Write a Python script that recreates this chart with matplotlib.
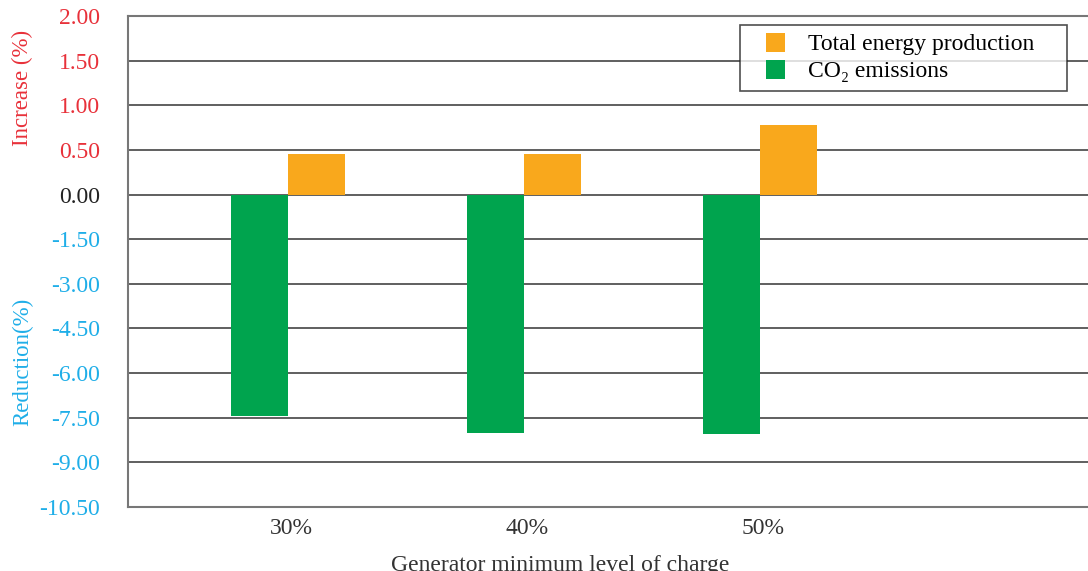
import numpy as np
import matplotlib.pyplot as plt
from matplotlib.patches import Rectangle
from matplotlib.container import BarContainer
from matplotlib.legend_handler import HandlerPatch, update_from_first_child

# Data
categories = ["30%", "40%", "50%"]
energy_increase = [0.45, 0.45, 0.78]
co2_change = [-7.45, -8.0, -8.05]
yticks = [-10.5, -9.0, -7.5, -6.0, -4.5, -3.0, -1.5, 0.0, 0.5, 1.0, 1.5, 2.0]

plt.rcParams["font.family"] = ["Liberation Serif", "DejaVu Serif"]

orange = "#F9A81C"
green = "#00A44E"
red = "#E8313A"
blue = "#1FAEE8"


# Split axis: positive part 0.5 per step, negative part 1.5 per step, same height
def forward(y):
    y = np.asarray(y, dtype=float)
    return np.where(y >= 0, y, y / 3.0)


def inverse(u):
    u = np.asarray(u, dtype=float)
    return np.where(u >= 0, u, u * 3.0)


# legend square pushed to the right of its handle box
def square(legend, orig_handle, xdescent, ydescent, width, height, fontsize):
    s = 0.8 * fontsize
    return Rectangle((width - s - xdescent, (height - s) / 2 - ydescent), s, s)


fig = plt.figure(figsize=(10.88, 5.71), dpi=100)
ax = fig.add_axes([0.1176, 0.112, 0.8824, 0.86])
ax.set_yscale("function", functions=(forward, inverse))

x = np.arange(len(categories))
w = 0.24
ax.bar(x - w / 2, co2_change, w, color=green, label="CO₂ emissions", zorder=3)
ax.bar(x + w / 2, energy_increase, w, color=orange, label="Total energy production", zorder=3)

ax.set_ylim(-10.5, 2.0)
ax.set_xlim(-0.678, 3.39)
ax.set_yticks(yticks)
ax.set_yticklabels([f"{v:.2f}" for v in yticks], fontsize=17)
for lbl, v in zip(ax.get_yticklabels(), yticks):
    if v > 0:
        lbl.set_color(red)
    elif v < 0:
        lbl.set_color(blue)
    else:
        lbl.set_color("#222222")

ax.set_xticks(x + 0.015)
ax.set_xticklabels(categories, fontsize=17, color="#333333")
ax.tick_params(length=0)
ax.tick_params(axis="x", pad=8)
ax.tick_params(axis="y", pad=20)

ax.grid(axis="y", color="#444444", linewidth=1.2, zorder=0)
ax.spines["right"].set_visible(False)
for s in ["left", "bottom", "top"]:
    ax.spines[s].set_color("#777777")
    ax.spines[s].set_linewidth(1.5)

ax.set_xlabel("Generator minimum level of charge", fontsize=17, color="#333333")
ax.xaxis.set_label_coords(0.45, -0.098)

fig.text(0.021, 1 - 88 / 571, "Increase (%)", rotation=90, color=red,
         fontsize=16.5, ha="center", va="center")
fig.text(0.021, 1 - 362 / 571, "Reduction(%)", rotation=90, color=blue,
         fontsize=16.5, ha="center", va="center")

handles, labels = ax.get_legend_handles_labels()
leg = ax.legend(handles[::-1], labels[::-1], loc="upper left",
                bbox_to_anchor=(0.6375, 0.8, 0.3406, 0.182), mode="expand",
                fontsize=17, frameon=True,
                fancybox=False, handlelength=1.55, handleheight=0.8,
                handletextpad=0.97, borderpad=0.35, labelspacing=0.2,
                borderaxespad=0,
                handler_map={BarContainer: HandlerPatch(
                    patch_func=square, update_func=update_from_first_child)})
leg.get_frame().set_edgecolor("#222222")
leg.get_frame().set_linewidth(1.2)
leg.set_zorder(5)

fig.savefig("out.png", dpi=100)
